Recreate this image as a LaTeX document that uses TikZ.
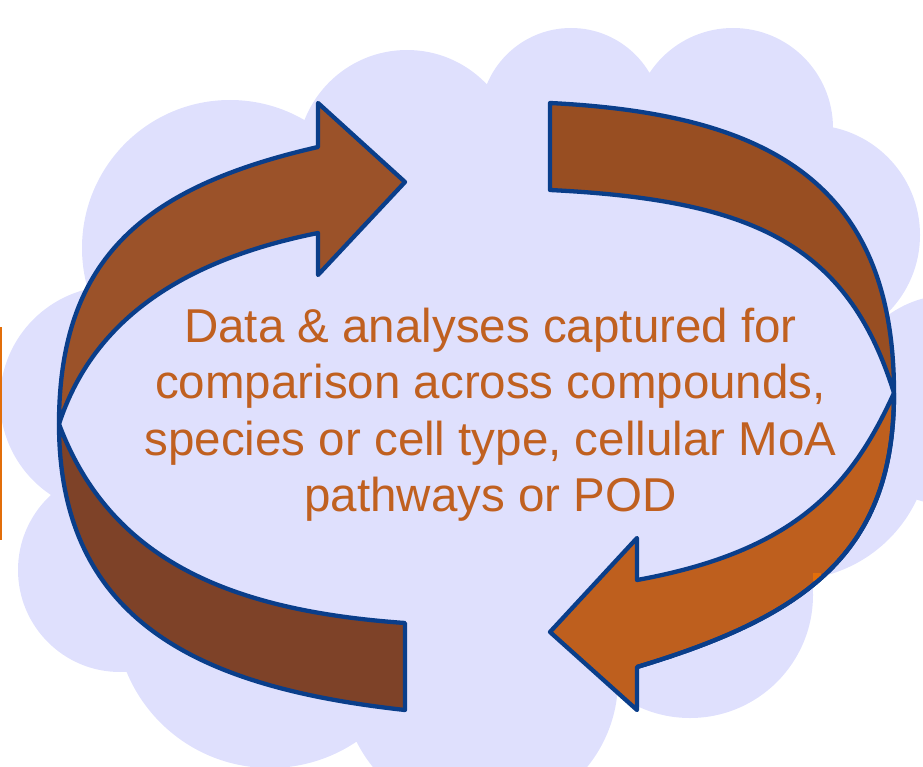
\documentclass[tikz,border=0pt]{standalone}
\usepackage{fontspec}
\setmainfont{Liberation Sans}

\definecolor{cloudfill}{RGB}{223,224,253}
\definecolor{rimblue}{RGB}{10,62,138}
\definecolor{leftupper}{RGB}{155,82,41}
\definecolor{leftlower}{RGB}{126,66,40}
\definecolor{rightupper}{RGB}{152,78,34}
\definecolor{rightlower}{RGB}{190,95,30}
\definecolor{captioncol}{RGB}{192,96,32}
\definecolor{tabcol}{RGB}{226,110,10}

\begin{document}
\begin{tikzpicture}[x=1pt,y=-1pt,
  band/.style={draw=rimblue,line width=4.3pt,line join=round},
  captxt/.style={text=captioncol,font=\fontsize{47.5}{56}\selectfont,anchor=base,inner sep=0pt}]
\useasboundingbox (0,0) rectangle (923,767);
\clip (0,0) rectangle (923,767);

% cloud: a ring of overlapping bumps around a filled core
\fill[cloudfill] (114,400) circle[radius=114pt]
                 (120,570) circle[radius=102pt]
                 (270,613) circle[radius=155pt]
                 (480,680) circle[radius=138pt]
                 (690,595) circle[radius=123pt]
                 (790,440) circle[radius=140pt]
                 (950,400) circle[radius=105pt]
                 (810,235) circle[radius=110pt]
                 (733,128) circle[radius=100pt]
                 (571,119) circle[radius=91pt]
                 (407,160) circle[radius=110pt]
                 (230,248) circle[radius=148pt];
\fill[cloudfill] (114,400) -- (120,570) -- (270,613) -- (480,680) -- (690,595)
  -- (790,440) -- (950,400) -- (810,235) -- (733,128) -- (571,119) -- (407,160)
  -- (230,248) -- cycle;

% thin orange bar at the left edge
\fill[tabcol] (0,327) rectangle (2,540);

% twist points of the two ribbons
\coordinate (CL) at (59,424);
\coordinate (CR) at (894,393);

% left arrow: upper half with head
\draw[band,fill=leftupper] (318,147) -- (318,103) -- (405,182) -- (318,275) -- (318,233)
  .. controls (178,261) and (92,323) .. (CL)
  .. controls (59,255) and (148,186) .. (318,147) -- cycle;

% left arrow: lower half
\draw[band,fill=leftlower] (CL) .. controls (59,625) and (205,688) .. (405,710)
  -- (405,623) .. controls (235,611) and (111,563) .. (CL) -- cycle;

% right arrow: upper half
\draw[band,fill=rightupper] (550,103) .. controls (760,113.5) and (894,177) .. (CR)
  .. controls (847,242) and (750,200) .. (550,190) -- cycle;

% right arrow: lower half with head
\draw[band,fill=rightlower] (CR) .. controls (894,552) and (807,616) .. (637,667)
  -- (637,710) -- (550,632) -- (637,538) -- (637,580)
  .. controls (797,551) and (852,485) .. (CR) -- cycle;

% small orange mark under the outer rim of the lower right band
\fill[tabcol] (813,573) rectangle (821,581);
\draw[band] (CR) .. controls (894,552) and (807,616) .. (637,667);

% caption
\node[captxt] (line1) at (490.5,342) {Data \& analyses captured for};
\node[captxt] (line2) at (490.5,398.5) {comparison across compounds,};
\node[captxt] (line3) at (490.5,455) {species or cell type, cellular MoA};
\node[captxt] (line4) at (490.5,511.5) {pathways or POD};
\end{tikzpicture}
\end{document}
